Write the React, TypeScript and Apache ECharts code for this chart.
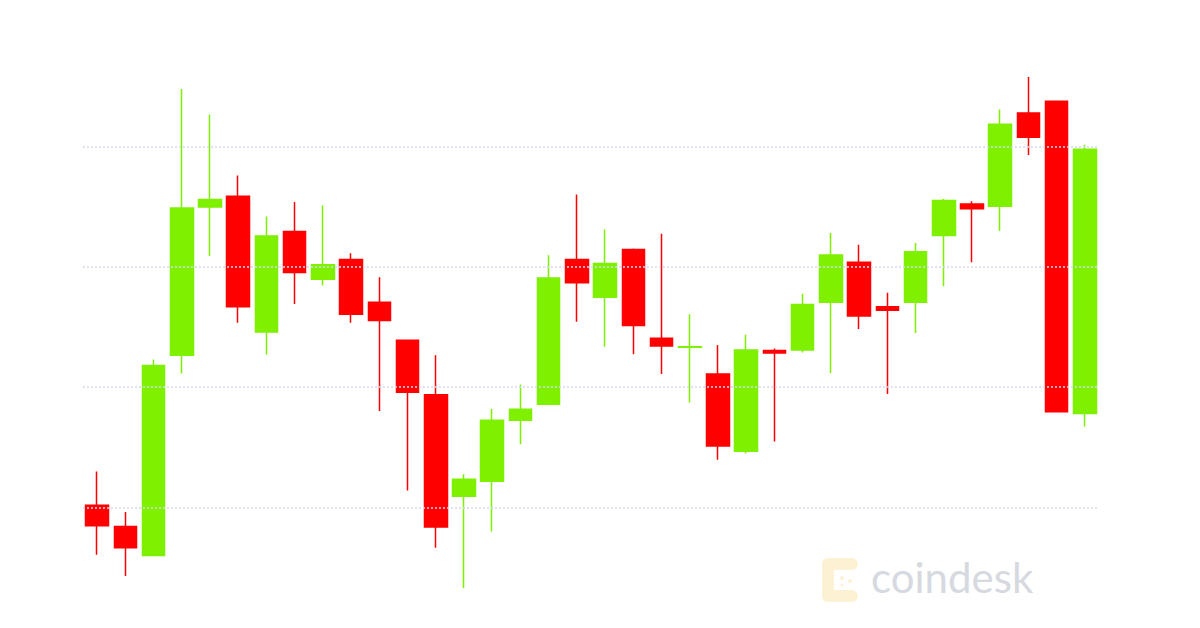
import React, { useEffect, useRef } from "react";
import * as echarts from "echarts";

// 36 periods (no labels visible in the reference)
const categories: string[] = Array.from({ length: 36 }, (_, i) => `P${i + 1}`);

// OHLC values (arbitrary price units)
const opens = [102.0, 84.4, 60.2, 226.5, 349.6, 358.7, 245.8, 329.4, 289.6, 306.1, 270.6, 239.0,
  193.8, 109.4, 121.9, 172.5, 185.9, 306.1, 274.8, 314.4, 240.7, 233.1, 210.9, 146.9,
  230.5, 230.8, 270.6, 303.8, 266.9, 270.6, 326.0, 352.2, 350.2, 427.8, 437.5, 178.2];
const closes = [84.9, 66.7, 218.0, 348.8, 355.9, 266.9, 325.5, 295.3, 301.6, 260.6, 255.5, 195.8,
  83.8, 123.6, 172.5, 181.6, 290.8, 286.8, 302.7, 251.2, 234.2, 233.6, 151.2, 230.8,
  228.5, 268.6, 309.8, 259.2, 264.0, 312.4, 355.0, 348.2, 418.4, 407.6, 179.6, 397.7];
const lows = [60.8, 43.1, 60.2, 211.4, 309.0, 253.5, 227.1, 269.2, 284.5, 253.5, 180.2, 114.2,
  66.7, 33.2, 80.1, 152.6, 185.9, 254.4, 233.6, 227.4, 210.9, 187.3, 139.8, 144.9,
  154.9, 228.8, 211.7, 248.4, 194.4, 245.0, 283.9, 303.8, 329.7, 392.8, 179.6, 167.4];
const highs = [129.9, 96.3, 223.1, 447.7, 426.4, 375.8, 341.7, 353.9, 351.0, 311.2, 291.3, 239.0,
  226.5, 127.6, 181.9, 202.3, 309.5, 360.1, 330.9, 315.2, 327.4, 260.6, 235.0, 243.6,
  232.2, 277.7, 328.0, 318.3, 278.5, 319.8, 356.4, 354.4, 430.6, 457.6, 437.5, 401.4];

const UP = "#7EF000";
const DOWN = "#FF0000";
const LOGO_FILL = "#FDF1D3";

export default function App() {
  const ref = useRef<HTMLDivElement>(null);

  useEffect(() => {
    if (!ref.current) return;
    const chart = echarts.init(ref.current, undefined, { renderer: "svg" });
    const data = categories.map((_, i) => [opens[i], closes[i], lows[i], highs[i]]);
    chart.setOption({
      animation: false,
      backgroundColor: "#FFFFFF",
      grid: { left: 83, right: 101, top: 26, bottom: -3.5, containLabel: false },
      xAxis: {
        type: "category",
        data: categories,
        boundaryGap: true,
        axisLine: { show: false },
        axisTick: { show: false },
        axisLabel: { show: false },
        splitLine: { show: false },
      },
      yAxis: {
        type: "value",
        min: 0,
        max: 500,
        interval: 100,
        z: 5,
        axisLine: { show: false },
        axisTick: { show: false },
        axisLabel: { show: false },
        splitLine: {
          show: true,
          showMinLine: false,
          showMaxLine: false,
          lineStyle: { color: "#D6D7F2", width: 1.5, type: [2, 2] },
        },
      },
      series: [
        {
          type: "candlestick",
          data,
          barWidth: 23,
          itemStyle: {
            color: UP,
            color0: DOWN,
            borderColor: UP,
            borderColor0: DOWN,
            borderWidth: 1.5,
          },
        },
      ],
      graphic: [
        {
          type: "group",
          left: 822,
          top: 558,
          silent: true,
          children: [
            { type: "rect", shape: { x: 2, y: 2, width: 36, height: 12, r: 6 }, style: { fill: LOGO_FILL } },
            { type: "rect", shape: { x: 2, y: 2, width: 12, height: 44, r: 6 }, style: { fill: LOGO_FILL } },
            { type: "rect", shape: { x: 2, y: 34, width: 36, height: 12, r: 6 }, style: { fill: LOGO_FILL } },
            { type: "circle", shape: { cx: 22, cy: 22, r: 2 }, style: { fill: LOGO_FILL } },
            { type: "circle", shape: { cx: 30, cy: 25, r: 2 }, style: { fill: LOGO_FILL } },
            { type: "circle", shape: { cx: 22, cy: 29, r: 1.5 }, style: { fill: LOGO_FILL } },
          ],
        },
        {
          type: "text",
          left: 871,
          top: 556,
          silent: true,
          style: {
            text: "coindesk",
            fontFamily: "Lato, 'Open Sans', sans-serif",
            fontSize: 42,
            fill: "#D6D9DF",
          },
        },
      ],
    });
    return () => chart.dispose();
  }, []);

  return (
    <div
      ref={ref}
      style={{ position: "fixed", left: 0, top: 0, width: 1200, height: 628, background: "#fff" }}
    />
  );
}
